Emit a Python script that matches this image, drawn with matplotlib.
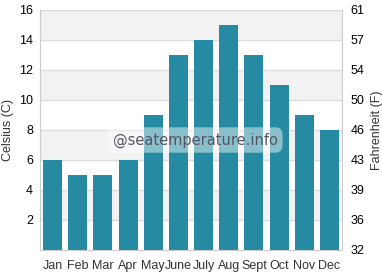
import matplotlib
matplotlib.use("Agg")
import matplotlib.pyplot as plt

months = ["Jan", "Feb", "Mar", "Apr", "May", "June", "July", "Aug", "Sept", "Oct", "Nov", "Dec"]
temps_c = [6, 5, 5, 6, 9, 13, 14, 15, 13, 11, 9, 8]
c_ticks = [2, 4, 6, 8, 10, 12, 14, 16]
f_ticks = [0, 2, 4, 6, 8, 10, 12, 14, 16]
f_labels = ["32", "36", "39", "43", "46", "50", "54", "57", "61"]

plt.rcParams["font.family"] = ["Liberation Sans", "DejaVu Sans"]
text_col = "#333333"

fig = plt.figure(figsize=(3.82, 2.80), dpi=100)
ax = fig.add_axes([40 / 382, 30 / 280, 302 / 382, 240 / 280])

# alternating background bands
for lo in range(2, 16, 4):
    ax.axhspan(lo, lo + 2, color="#f2f2f2", zorder=0, lw=0)
for y in c_ticks:
    ax.axhline(y, color="#dddddd", lw=1, zorder=1)

x = range(len(months))
ax.bar(x, temps_c, width=0.76, color="#268ba2", zorder=2)

ax.set_xlim(-0.5, len(months) - 0.5)
ax.set_ylim(0, 16)
ax.set_xticks(list(x))
ax.set_xticklabels(months, fontsize=9, color=text_col)
ax.set_yticks(c_ticks)
ax.set_yticklabels([str(t) for t in c_ticks], fontsize=9, color="black")
ax.tick_params(axis="x", length=0, pad=7)
ax.tick_params(axis="y", length=0, pad=5)
ax.set_ylabel("Celsius (C)", fontsize=9, color=text_col, labelpad=4)
for s in ["left", "bottom", "right"]:
    ax.spines[s].set_color("#cccccc")
ax.spines["top"].set_visible(False)

ax2 = ax.twinx()
ax2.set_ylim(0, 16)
ax2.set_yticks(f_ticks)
ax2.set_yticklabels(f_labels, fontsize=9, color="black")
ax2.tick_params(axis="y", length=0, pad=6)
ax2.set_ylabel("Fahrenheit (F)", fontsize=9, color=text_col, labelpad=5)
for s in ["left", "bottom", "right", "top"]:
    ax2.spines[s].set_visible(False)

# watermark
fig.text(195 / 382, 1 - 140 / 280, "@seatemperature.info", fontsize=10.5,
         family="DejaVu Sans", color="#555566", ha="center", va="center",
         bbox=dict(boxstyle="round,pad=0.35,rounding_size=0.5", fc="white", ec="none", alpha=0.45),
         zorder=10)

fig.savefig("out.png", dpi=100)
